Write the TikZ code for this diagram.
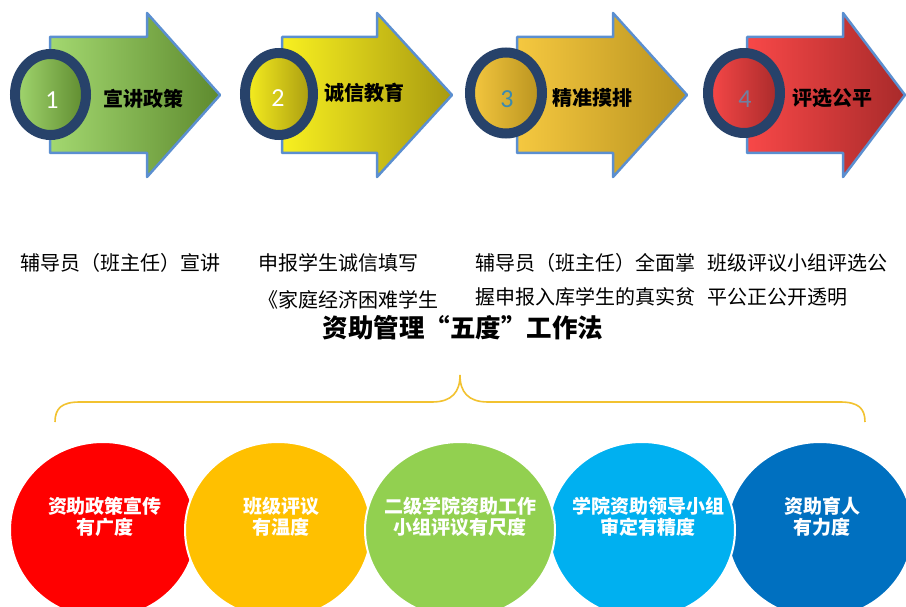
\documentclass[tikz,border=0pt]{standalone}
\usepackage{fontspec}
\newfontfamily\cjk{Noto Sans CJK SC}
\newfontfamily\numfont{Carlito}
\definecolor{arrowline}{HTML}{5B8FD0}
\definecolor{ringc}{HTML}{27426A}
\definecolor{braceC}{HTML}{F2C230}
\definecolor{gA}{HTML}{A3D870}\definecolor{gB}{HTML}{5E8A2E}
\definecolor{yA}{HTML}{F8F020}\definecolor{yB}{HTML}{A89A10}
\definecolor{oA}{HTML}{F5C840}\definecolor{oB}{HTML}{B8921E}
\definecolor{rA}{HTML}{F84848}\definecolor{rB}{HTML}{A82A2A}
\definecolor{cRed}{HTML}{FF0000}
\definecolor{cYel}{HTML}{FFC000}
\definecolor{cGrn}{HTML}{92D050}
\definecolor{cLbl}{HTML}{00B0F0}
\definecolor{cDbl}{HTML}{0070C0}
\definecolor{num3}{HTML}{3A8AB0}
\definecolor{num4}{HTML}{7080A0}
\tikzset{
  arr/.style={draw=arrowline, line width=2.5pt, line join=round},
  ring/.style={draw=ringc, line width=10pt},
  lbl/.style={font=\cjk\bfseries\fontsize{20}{22}\selectfont, text=black, inner sep=0pt},
  numl/.style={font=\numfont\fontsize{26}{28}\selectfont, inner sep=0pt},
  body/.style={font=\cjk\fontsize{20}{22}\selectfont, anchor=west, inner sep=0pt},
  bubble/.style={draw=white, line width=2pt},
  btext/.style={font=\cjk\bfseries\fontsize{19}{21}\selectfont, text=white, align=center, inner sep=0pt},
  ttl/.style={font=\cjk\bfseries\fontsize{25.5}{27}\selectfont, inner sep=0pt},
}
\begin{document}
\begin{tikzpicture}[x=1pt,y=-1pt]
\useasboundingbox (0,0) rectangle (906,607);
\clip (0,0) rectangle (906,607);
\fill[white] (0,0) rectangle (906,607);

% arrows
\shadedraw[arr, left color=gA, right color=gB] (50,37) -- (147,37) -- (147,13) -- (220,95) -- (147,177) -- (147,153) -- (50,153) -- cycle;
\shadedraw[arr, left color=yA, right color=yB] (282,37) -- (377,37) -- (377,13) -- (452,95) -- (377,177) -- (377,153) -- (282,153) -- cycle;
\shadedraw[arr, left color=oA, right color=oB] (517,37) -- (613,37) -- (613,13) -- (687,95) -- (613,177) -- (613,153) -- (517,153) -- cycle;
\shadedraw[arr, left color=rA, right color=rB] (747,37) -- (843,37) -- (843,13) -- (905,95) -- (843,177) -- (843,153) -- (747,153) -- cycle;

% rings
\shadedraw[ring, left color=gA, right color=gB] (50.5,94.5) ellipse [x radius=35.5pt, y radius=40.5pt];
\shadedraw[ring, left color=yA, right color=yB] (279,94) ellipse [x radius=34pt, y radius=41pt];
\shadedraw[ring, left color=oA, right color=oB] (506,93) ellipse [x radius=36pt, y radius=40.5pt];
\shadedraw[ring, left color=rA, right color=rB] (744,93) ellipse [x radius=36pt, y radius=40pt];

\node[numl, text=white] (n1) at (52,100) {1};
\node[numl, text=white] (n2) at (278,98) {2};
\node[numl, text=num3] (n3) at (507,99) {3};
\node[numl, text=num4] (n4) at (745,99) {4};

\node[lbl] (a1) at (143,99) {宣讲政策};
\node[lbl] (a2) at (364,93) {诚信教育};
\node[lbl] (a3) at (592,98) {精准摸排};
\node[lbl] (a4) at (832,98) {评选公平};

% body texts
\node[body] (t1) at (20,263) {辅导员（班主任）宣讲};
\node[body] (t2) at (258,263) {申报学生诚信填写};
\node[body] (t2b) at (258,300) {《家庭经济困难学生};
\node[body] (t3) at (475,263) {辅导员（班主任）全面掌};
\node[body] (t3b) at (475,297) {握申报入库学生的真实贫};
\node[body] (t4) at (707,263) {班级评议小组评选公};
\node[body] (t4b) at (707,297) {平公正公开透明};

\node[ttl] (title) at (463,328) {资助管理“五度”工作法};

% brace
\draw[braceC, line width=1.6pt] (55,422) .. controls (55,408) and (62,402) .. (80,402) -- (432,402) .. controls (452,402) and (460,392) .. (460,375) .. controls (460,392) and (468,402) .. (488,402) -- (840,402) .. controls (858,402) and (865,408) .. (865,422);

% bubbles
\filldraw[bubble, fill=cRed] (103,530) ellipse [x radius=93pt, y radius=88pt];
\filldraw[bubble, fill=cYel] (278,530) ellipse [x radius=93pt, y radius=88pt];
\filldraw[bubble, fill=cDbl] (820,530) ellipse [x radius=93pt, y radius=88pt];
\filldraw[bubble, fill=cLbl] (642,530) ellipse [x radius=93pt, y radius=88pt];
\filldraw[bubble, fill=cGrn] (460,530) ellipse [x radius=95pt, y radius=88pt];

\node[btext] (b1) at (105,517) {资助政策宣传\\有广度};
\node[btext] (b2) at (281,517) {班级评议\\有温度};
\node[btext] (b3) at (460,517) {二级学院资助工作\\小组评议有尺度};
\node[btext] (b4) at (648,517) {学院资助领导小组\\审定有精度};
\node[btext] (b5) at (822,517) {资助育人\\有力度};
\end{tikzpicture}
\end{document}
